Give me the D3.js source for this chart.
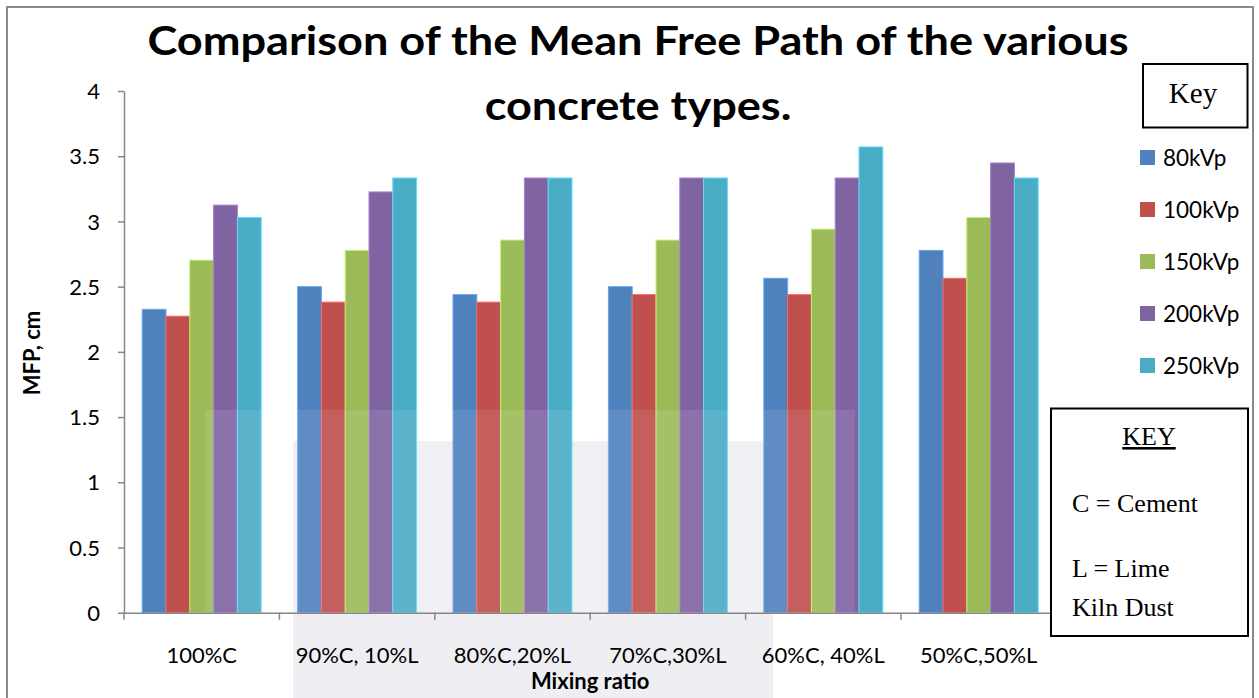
<!DOCTYPE html>
<html>
<head>
<meta charset="utf-8">
<script src="https://cdn.jsdelivr.net/npm/d3@7"></script>
<style>
  html, body { margin: 0; padding: 0; background: #fff; }
  svg { display: block; }
</style>
</head>
<body>
<svg id="chart" width="1259" height="698"></svg>
<script>
// Mixing ratios (cement / lime kiln dust) along the x axis
const categories = ["100%C", "90%C, 10%L", "80%C,20%L", "70%C,30%L", "60%C, 40%L", "50%C,50%L"];
// Tube voltages, one bar series each
const seriesNames = ["80kVp", "100kVp", "150kVp", "200kVp", "250kVp"];
const seriesColors = ["#4F81BD", "#C0504D", "#9BBB59", "#8064A2", "#4BACC6"];
// Mean free path (cm) per mixing ratio, one array per tube voltage
const mfp80  = [2.326, 2.500, 2.439, 2.500, 2.564, 2.778];
const mfp100 = [2.273, 2.381, 2.381, 2.439, 2.439, 2.564];
const mfp150 = [2.703, 2.778, 2.857, 2.857, 2.941, 3.030];
const mfp200 = [3.125, 3.226, 3.333, 3.333, 3.333, 3.448];
const mfp250 = [3.030, 3.333, 3.333, 3.333, 3.571, 3.333];
const seriesValues = [mfp80, mfp100, mfp150, mfp200, mfp250];
const yTicks = [0, 0.5, 1, 1.5, 2, 2.5, 3, 3.5, 4];
const yTickLabels = ["0", "0.5", "1", "1.5", "2", "2.5", "3", "3.5", "4"];

const svg = d3.select("#chart");
const sans = "Lato, 'Open Sans', sans-serif";
const serif = "'Liberation Serif', 'Times New Roman', serif";
const axisGray = "#868686";

const plot = { left: 124, right: 1056.4, top: 91, bottom: 612.7 };

const x0 = d3.scaleBand().domain(categories).range([plot.left, plot.right]).paddingInner(0).paddingOuter(0);
const x1 = d3.scaleBand().domain(seriesNames).range([0, x0.bandwidth()]).paddingInner(0).paddingOuter(0.765);
const y = d3.scaleLinear().domain([0, 4]).range([plot.bottom, plot.top]);

// outer frame
svg.append("rect")
  .attr("x", 7).attr("y", 7).attr("width", 1246).attr("height", 760)
  .attr("fill", "#fff").attr("stroke", "#8a8a8a").attr("stroke-width", 2);

// faint backdrop panel behind the lower middle of the chart
svg.append("rect")
  .attr("x", 293).attr("y", 441).attr("width", 480).attr("height", 270)
  .attr("fill", "#efeff3");

// bars
const groups = svg.append("g").selectAll("g")
  .data(categories)
  .join("g")
  .attr("transform", d => `translate(${x0(d)},0)`);

groups.selectAll("rect")
  .data((c, ci) => seriesNames.map((s, si) => ({ s, si, v: seriesValues[si][ci] })))
  .join("rect")
  .attr("x", d => x1(d.s))
  .attr("y", d => y(d.v))
  .attr("width", x1.bandwidth())
  .attr("height", d => y(0) - y(d.v))
  .attr("fill", d => seriesColors[d.si])
  .attr("stroke", d => d3.color(seriesColors[d.si]).brighter(0.7))
  .attr("stroke-width", 1);

// light wash over the bars in the lower middle region
svg.append("rect")
  .attr("x", 205).attr("y", 410).attr("width", 650).attr("height", 203)
  .attr("fill", "#fff").attr("opacity", 0.09);

// y axis
const yAxis = d3.axisLeft(y).tickValues(yTicks).tickSize(6).tickSizeOuter(0)
  .tickFormat((d, i) => yTickLabels[i]);
const gy = svg.append("g").attr("transform", `translate(${plot.left},0)`).call(yAxis);
gy.select(".domain").attr("stroke", axisGray).attr("stroke-width", 1.5);
gy.selectAll(".tick line").attr("stroke", axisGray).attr("stroke-width", 1.5);
gy.selectAll(".tick text")
  .attr("x", -24).attr("dy", "0.35em")
  .attr("fill", "#000").style("font-family", sans).style("font-size", "22px");

// x axis: line with ticks at the category boundaries
const xAxis = d3.axisBottom(x0).tickSize(0).tickSizeOuter(0).tickFormat("");
const gx = svg.append("g").attr("transform", `translate(0,${plot.bottom})`).call(xAxis);
gx.select(".domain").attr("stroke", axisGray).attr("stroke-width", 1.5);
const boundaries = categories.map(c => x0(c)).concat([plot.right]);
gx.selectAll(".bound")
  .data(boundaries)
  .join("line")
  .attr("x1", d => d).attr("x2", d => d)
  .attr("y1", 0).attr("y2", 7)
  .attr("stroke", axisGray).attr("stroke-width", 1.5);

// category labels
svg.append("g").selectAll("text")
  .data(categories)
  .join("text")
  .attr("x", d => x0(d) + x0.bandwidth() / 2)
  .attr("y", 663)
  .attr("text-anchor", "middle")
  .style("font-family", sans).style("font-size", "22px")
  .text(d => d);

// axis titles
svg.append("text")
  .attr("x", (plot.left + plot.right) / 2).attr("y", 689)
  .attr("text-anchor", "middle")
  .style("font-family", sans).style("font-size", "22px").style("font-weight", "bold")
  .text("Mixing ratio");
svg.append("text")
  .attr("transform", "translate(40,353) rotate(-90)")
  .attr("text-anchor", "middle")
  .style("font-family", sans).style("font-size", "22px").style("font-weight", "bold")
  .text("MFP, cm");

// title, set slightly wide
const title = svg.append("text")
  .attr("transform", "translate(638,0) scale(1.1,1)")
  .attr("text-anchor", "middle")
  .style("font-family", sans).style("font-size", "41px").style("font-weight", "bold");
title.append("tspan").attr("x", 0).attr("y", 55).text("Comparison of the Mean Free Path of the various");
title.append("tspan").attr("x", 0).attr("y", 120).text("concrete types.");

// legend: "Key" box
svg.append("rect")
  .attr("x", 1143).attr("y", 64).attr("width", 104.5).attr("height", 63.5)
  .attr("fill", "#fff").attr("stroke", "#000").attr("stroke-width", 2);
svg.append("text")
  .attr("x", 1193).attr("y", 103).attr("text-anchor", "middle")
  .style("font-family", serif).style("font-size", "29px")
  .text("Key");

// legend entries
const legend = svg.append("g").selectAll("g")
  .data(seriesNames)
  .join("g")
  .attr("transform", (d, i) => `translate(1140,${157.5 + i * 52})`);
legend.append("rect")
  .attr("x", 0).attr("y", -7.5).attr("width", 15).attr("height", 15)
  .attr("fill", (d, i) => seriesColors[i]);
legend.append("text")
  .attr("x", 23).attr("y", 8)
  .style("font-family", sans).style("font-size", "22.5px")
  .text(d => d);

// abbreviation key box
svg.append("rect")
  .attr("x", 1051).attr("y", 408.5).attr("width", 197).attr("height", 227.5)
  .attr("fill", "#fff").attr("stroke", "#000").attr("stroke-width", 2);
svg.append("text")
  .attr("x", 1149).attr("y", 445).attr("text-anchor", "middle")
  .style("font-family", serif).style("font-size", "26px")
  .style("text-decoration", "underline")
  .text("KEY");
const keyLines = [["C = Cement", 511.5], ["L = Lime", 576.5], ["Kiln Dust", 615.5]];
svg.append("g").selectAll("text")
  .data(keyLines)
  .join("text")
  .attr("x", 1072).attr("y", d => d[1])
  .style("font-family", serif).style("font-size", "26px")
  .text(d => d[0]);
</script>
</body>
</html>
